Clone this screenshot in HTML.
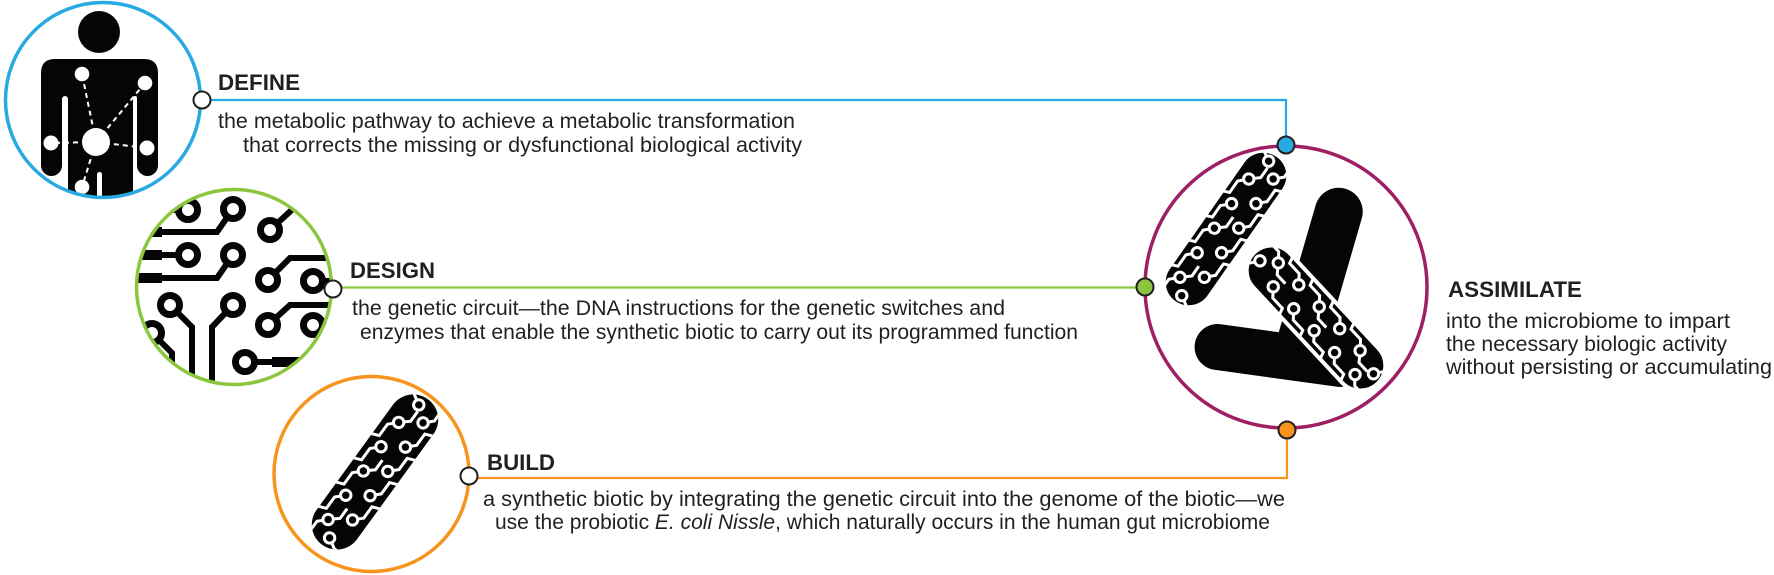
<!DOCTYPE html>
<html><head><meta charset="utf-8"><style>
html,body{margin:0;padding:0;background:#fff;}
svg{display:block;}
text{font-family:"Liberation Sans",Arial,sans-serif;fill:#231f20;}
.h{font-weight:bold;font-size:22px;}
.b{font-size:21px;}
</style></head><body>
<svg width="1774" height="575" viewBox="0 0 1774 575" xmlns="http://www.w3.org/2000/svg">
<defs>
<clipPath id="c1"><circle cx="103" cy="100" r="96"/></clipPath>
<clipPath id="c2"><circle cx="234" cy="287" r="96"/></clipPath>
<clipPath id="c4"><circle cx="1286" cy="287" r="139"/></clipPath>
<clipPath id="cap"><rect x="-90" y="-25" width="180" height="50" rx="25"/></clipPath>
<g id="circ">
  <g fill="none" stroke="#fff" stroke-width="3" stroke-linejoin="miter">
    <path d="M-66 -10 L-74 -18 L-88 -18 L-92 -28"/>
    <path d="M-36 -10 L-44 -18 L-58 -18 L-62 -28"/>
    <path d="M-6 -10 L-14 -18 L-28 -18 L-32 -28"/>
    <path d="M24 -10 L16 -18 L2 -18 L-2 -28"/>
    <path d="M54 -10 L46 -18 L32 -18 L28 -28"/>
    <path d="M-52 10 L-44 18 L-30 18 L-26 28"/>
    <path d="M-22 10 L-14 18 L0 18 L4 28"/>
    <path d="M8 10 L16 18 L30 18 L34 28"/>
    <path d="M38 10 L46 18 L60 18 L64 28"/>
    <path d="M68 10 L76 18 L90 18"/>
    <path d="M-66 -10 L-58 -1 L-46 -1"/>
    <path d="M-6 -10 L2 -1 L14 -1"/>
    <path d="M54 -10 L62 -1 L74 -1"/>
    <path d="M-80 2 L-86 12 L-86 28"/>
    <path d="M80 -4 L86 -14"/>
  </g>
  <g fill="#050505" stroke="#fff" stroke-width="3">
    <circle cx="-66" cy="-10" r="5.2"/><circle cx="-36" cy="-10" r="5.2"/>
    <circle cx="-6" cy="-10" r="5.2"/><circle cx="24" cy="-10" r="5.2"/>
    <circle cx="54" cy="-10" r="5.2"/>
    <circle cx="-52" cy="10" r="5.2"/><circle cx="-22" cy="10" r="5.2"/>
    <circle cx="8" cy="10" r="5.2"/><circle cx="38" cy="10" r="5.2"/>
    <circle cx="68" cy="10" r="5.2"/>
    <circle cx="-80" cy="2" r="5.2"/><circle cx="80" cy="-4" r="5.2"/>
  </g>
</g>
</defs>

<!-- connectors -->
<path d="M202 100 H1286 V145" fill="none" stroke="#27aae1" stroke-width="2.2"/>
<path d="M333 287.5 H1145" fill="none" stroke="#8cc63f" stroke-width="2.2"/>
<path d="M469 478 H1287 V430" fill="none" stroke="#f7941d" stroke-width="2.2"/>

<!-- DEFINE circle: human figure -->
<g clip-path="url(#c1)">
  <circle cx="99" cy="32" r="21" fill="#050505"/>
  <path d="M41 110 L41 73 Q41 59 55 59 L144 59 Q158 59 158 73 L158 110 Z" fill="#050505"/>
  <rect x="41" y="80" width="21" height="96" rx="10.5" fill="#050505"/>
  <rect x="137" y="80" width="21" height="96" rx="10.5" fill="#050505"/>
  <rect x="68" y="80" width="65" height="200" fill="#050505"/>
  <rect x="62" y="96" width="6" height="20" rx="3" fill="#fff"/>
  <rect x="133" y="96" width="4" height="20" rx="2" fill="#fff"/>
  <rect x="97" y="172" width="5" height="80" rx="2.5" fill="#fff"/>
  <g stroke="#fff" stroke-width="2" stroke-dasharray="5 4" fill="none">
    <line x1="96" y1="142" x2="82" y2="74"/>
    <line x1="96" y1="142" x2="145" y2="83"/>
    <line x1="96" y1="142" x2="51" y2="143"/>
    <line x1="96" y1="142" x2="147" y2="148"/>
    <line x1="96" y1="142" x2="82" y2="187"/>
  </g>
  <g fill="#fff">
    <circle cx="96" cy="142" r="14"/>
    <circle cx="82" cy="74" r="7.3"/>
    <circle cx="145" cy="83" r="7.3"/>
    <circle cx="51" cy="143" r="7.5"/>
    <circle cx="147" cy="148" r="7.5"/>
    <circle cx="82" cy="187" r="7.3"/>
  </g>
</g>
<circle cx="103" cy="100" r="97.5" fill="none" stroke="#27aae1" stroke-width="3.5"/>

<!-- DESIGN circle: circuit -->
<g clip-path="url(#c2)">
  <g fill="none" stroke="#050505" stroke-width="6">
    <path d="M188 210 L140 210"/>
    <path d="M233 209 L217 232 L140 232"/>
    <path d="M188 255 L140 255"/>
    <path d="M233 255 L217 278 L140 278"/>
    <path d="M270 230 L296 206"/>
    <path d="M268 280 L290 258 L335 258"/>
    <path d="M268 325 L290 305 L335 305"/>
    <path d="M313 281 L340 281"/>
    <path d="M313 325 L340 325"/>
    <path d="M170 305 L192 327 L192 395"/>
    <path d="M233 305 L212 327 L212 395"/>
    <path d="M152 333 L172 353 L172 395"/>
    <path d="M245 362 L300 362"/>
  </g>
  <g fill="#050505">
    <rect x="135" y="227" width="27" height="10"/>
    <rect x="135" y="250" width="27" height="10"/>
    <rect x="135" y="273" width="27" height="10"/>
    <rect x="272" y="357" width="30" height="10"/>
  </g>
  <g fill="#fff" stroke="#050505" stroke-width="7">
    <circle cx="188" cy="210" r="9.5"/><circle cx="233" cy="209" r="9.5"/>
    <circle cx="270" cy="230" r="9.5"/><circle cx="188" cy="255" r="9.5"/>
    <circle cx="233" cy="255" r="9.5"/><circle cx="268" cy="280" r="9.5"/>
    <circle cx="313" cy="281" r="9.5"/><circle cx="170" cy="305" r="9.5"/>
    <circle cx="233" cy="305" r="9.5"/><circle cx="268" cy="325" r="9.5"/>
    <circle cx="313" cy="325" r="9.5"/><circle cx="152" cy="333" r="9.5"/>
    <circle cx="245" cy="362" r="9.5"/>
  </g>
</g>
<circle cx="234" cy="287" r="97.5" fill="none" stroke="#8cc63f" stroke-width="3.5"/>

<!-- BUILD circle: bacterium -->
<g transform="translate(375 472) rotate(-54)">
  <rect x="-90" y="-25" width="180" height="50" rx="25" fill="#050505"/>
  <g clip-path="url(#cap)"><use href="#circ"/></g>
</g>
<circle cx="371.5" cy="474" r="97.5" fill="none" stroke="#f7941d" stroke-width="3.5"/>

<!-- ASSIMILATE circle: bacteria -->
<g clip-path="url(#c4)">
  <g transform="translate(1279 355.5) rotate(7.9)">
    <rect x="-85" y="-23" width="170" height="46" rx="23" fill="#050505"/>
  </g>
  <g transform="translate(1319.5 278) rotate(-73.8)">
    <rect x="-93" y="-24" width="186" height="48" rx="24" fill="#050505"/>
  </g>
  <g transform="translate(1316 318) rotate(47)">
    <rect x="-90" y="-25" width="180" height="50" rx="25" fill="#050505" stroke="#fff" stroke-width="4"/>
    <g clip-path="url(#cap)"><use href="#circ"/></g>
  </g>
  <g transform="translate(1226 229) rotate(-55)">
    <rect x="-90" y="-25" width="180" height="50" rx="25" fill="#050505" stroke="#fff" stroke-width="4"/>
    <g clip-path="url(#cap)"><use href="#circ"/></g>
  </g>
</g>
<circle cx="1286" cy="287" r="141" fill="none" stroke="#9e1f63" stroke-width="3.5"/>

<!-- nodes -->
<g stroke="#231f20" stroke-width="2">
  <circle cx="202" cy="100" r="8.5" fill="#fff"/>
  <circle cx="333" cy="289" r="8.5" fill="#fff"/>
  <circle cx="469" cy="476" r="8.5" fill="#fff"/>
  <circle cx="1286" cy="145" r="8.5" fill="#27aae1"/>
  <circle cx="1145" cy="287" r="8.5" fill="#8cc63f"/>
  <circle cx="1287" cy="430" r="8.5" fill="#f7941d"/>
</g>

<!-- text -->
<text class="h" x="218" y="90" textLength="82" lengthAdjust="spacingAndGlyphs">DEFINE</text>
<text class="b" x="218" y="128" textLength="577" lengthAdjust="spacingAndGlyphs">the metabolic pathway to achieve a metabolic transformation</text>
<text class="b" x="243" y="152" textLength="559" lengthAdjust="spacingAndGlyphs">that corrects the missing or dysfunctional biological activity</text>

<text class="h" x="350" y="278" textLength="85" lengthAdjust="spacingAndGlyphs">DESIGN</text>
<text class="b" x="352" y="315" textLength="653" lengthAdjust="spacingAndGlyphs">the genetic circuit—the DNA instructions for the genetic switches and</text>
<text class="b" x="360" y="339" textLength="718" lengthAdjust="spacingAndGlyphs">enzymes that enable the synthetic biotic to carry out its programmed function</text>

<text class="h" x="487" y="470" textLength="68" lengthAdjust="spacingAndGlyphs">BUILD</text>
<text class="b" x="483" y="506" textLength="802" lengthAdjust="spacingAndGlyphs">a synthetic biotic by integrating the genetic circuit into the genome of the biotic—we</text>
<text class="b" x="495" y="529" textLength="775" lengthAdjust="spacingAndGlyphs">use the probiotic <tspan font-style="italic">E. coli Nissle</tspan>, which naturally occurs in the human gut microbiome</text>

<text class="h" x="1448" y="297" textLength="134" lengthAdjust="spacingAndGlyphs">ASSIMILATE</text>
<text class="b" x="1446" y="328" textLength="284" lengthAdjust="spacingAndGlyphs">into the microbiome to impart</text>
<text class="b" x="1446" y="351" textLength="281" lengthAdjust="spacingAndGlyphs">the necessary biologic activity</text>
<text class="b" x="1446" y="374" textLength="326" lengthAdjust="spacingAndGlyphs">without persisting or accumulating</text>
</svg>
</body></html>
